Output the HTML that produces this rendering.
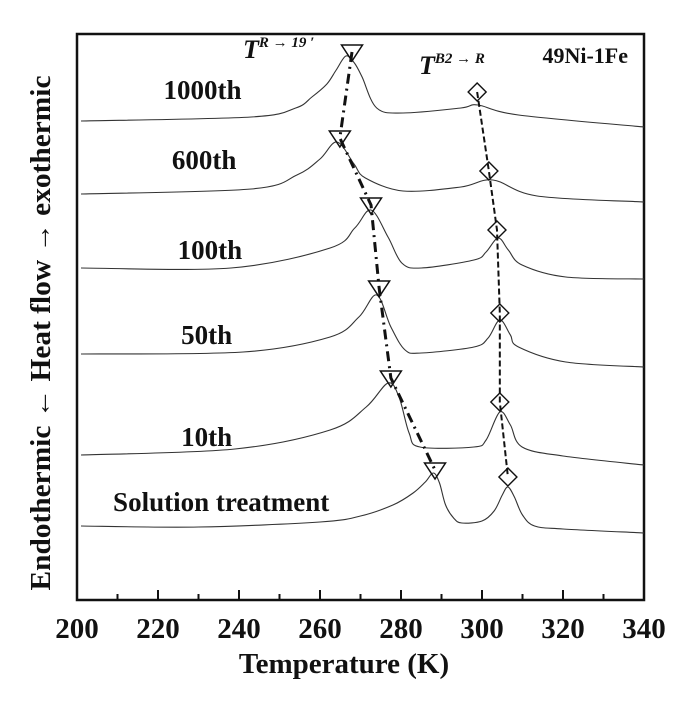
<!DOCTYPE html>
<html><head><meta charset="utf-8"><style>
html,body{margin:0;padding:0;background:#fff;width:694px;height:703px;overflow:hidden}
svg{display:block}
text{font-family:"Liberation Serif",serif;font-weight:bold;fill:#111}
</style></head><body>
<svg id="chart" width="694" height="703" viewBox="0 0 694 703" xmlns="http://www.w3.org/2000/svg"></svg>
<script>
// Data (heat flow expressed as pixel-equivalent offset, larger = higher on plot)
const xTicks = [200,220,240,260,280,300,320,340];
const curveNames = ["1000th","600th","100th","50th","10th","Solution treatment"];
const t1000 = [201,243,254,258,261.7,264,266.4,268.5,270.4,274,280.5,294.8,299,309,340];
const v1000 = [479,483,492,503,516,530,544,537,523,492,487,492,495,485,473];
const t600 = [201,243,254.3,260,264.2,268.4,271.2,280.5,294.8,302.7,313.6,340];
const v600 = [406,411,425,441,458,436,422,409,413,420,404,398];
const t100 = [201,238,262.5,268.6,272.6,276.8,280.2,285,298,301,304,306.5,309.9,320.7,340];
const v100 = [332,332,352,372,390,363,337,332,340,348,362,350,335,323,321];
const t50 = [201,241,262.5,269.6,274,277.5,281,285,298,301.5,304.4,307,309,320.7,340];
const v50 = [246,248,263,283,305,273,250,247,253,262,280,265,253,238,233];
const t10 = [201,239,262.5,271.4,276.8,279.5,282,284.7,298,301,304.4,307,309.9,320,340];
const v10 = [145,151,170,193,217,203,167,153,153,160,188,175,153,144,135];
const tSol = [201,230,260,270,278,283,286,288,289.5,291,293,295,300,303,305,306.4,308,310,313,320,340];
const vSol = [74,73,78,84,95,107,118,127,117,95,82,77,79,89,105,113,103,85,74,71,67];
const triT = [267.9,264.9,272.6,274.6,277.5,288.4];
const triV = [548,462,395,312,222,130];
const diaT = [298.8,301.7,303.7,304.4,304.4,306.4];
const diaV = [508,429,370,287,198,123];
const labelT = [231,231.4,232.8,232,232,235.6];
const labelV = [510,440,350,265,163,98];

const svg = document.getElementById('chart');
const NS = 'http://www.w3.org/2000/svg';
const X0=77, X1=644, Y0=34, Y1=600;
function xs(t){return X0+(t-200)*(X1-X0)/140;}
function ys(v){return 600-v;}
function mk(tag, attrs, parent){const e=document.createElementNS(NS,tag);for(const k in attrs)e.setAttribute(k,attrs[k]);(parent||svg).appendChild(e);return e;}

function smooth(pts){
  let d='M'+pts[0][0].toFixed(1)+','+pts[0][1].toFixed(1);
  for(let i=0;i<pts.length-1;i++){
    const p0=pts[i-1]||pts[i],p1=pts[i],p2=pts[i+1],p3=pts[i+2]||p2;
    const c1=[p1[0]+(p2[0]-p0[0])/6,p1[1]+(p2[1]-p0[1])/6];
    const c2=[p2[0]-(p3[0]-p1[0])/6,p2[1]-(p3[1]-p1[1])/6];
    d+=' C'+c1[0].toFixed(1)+','+c1[1].toFixed(1)+' '+c2[0].toFixed(1)+','+c2[1].toFixed(1)+' '+p2[0].toFixed(1)+','+p2[1].toFixed(1);
  }
  return d;
}

// frame
const frame = mk('rect',{x:X0,y:Y0,width:X1-X0,height:Y1-Y0,fill:'none',stroke:'#111','stroke-width':2.5});



// x ticks
for(let t=210;t<340;t+=10){
  const major = (t%20===0);
  const tk = mk('line',{x1:xs(t),x2:xs(t),y1:Y1,y2:Y1-(major?10:6),stroke:'#111','stroke-width':2});
  
  
}
xTicks.forEach(t=>{
  const tx = mk('text',{x:xs(t),y:638,'text-anchor':'middle','font-size':29});
  tx.textContent=t;
  
  
});
const xt = mk('text',{x:344,y:673,'text-anchor':'middle','font-size':29});
xt.textContent='Temperature (K)';


const yt = mk('text',{x:0,y:0,'text-anchor':'middle','font-size':28,transform:'translate(50,333) rotate(-90)',textLength:515,lengthAdjust:'spacingAndGlyphs'});
yt.textContent='Endothermic \u2190 Heat flow \u2192 exothermic';



// curves
const Ts=[t1000,t600,t100,t50,t10,tSol], Vs=[v1000,v600,v100,v50,v10,vSol];
Ts.forEach((T,i)=>{
  const pts=T.map((t,j)=>[xs(t),ys(Vs[i][j])]);
  const p = mk('path',{d:smooth(pts),fill:'none',stroke:'#333','stroke-width':1.1});
  
  
  const lb = mk('text',{x:xs(labelT[i]),y:ys(labelV[i])+9,'text-anchor':'middle','font-size':27});
  lb.textContent=curveNames[i];
  
  
});

// guide lines
const triLine = mk('polyline',{points:triT.map((t,i)=>xs(t)+','+ys(triV[i])).join(' '),fill:'none',stroke:'#111','stroke-width':3,'stroke-dasharray':'10 5 2 5'});


const diaLine = mk('polyline',{points:diaT.map((t,i)=>xs(t)+','+ys(diaV[i])).join(' '),fill:'none',stroke:'#111','stroke-width':2,'stroke-dasharray':'6 3'});



// markers
triT.forEach((t,i)=>{
  const cx=xs(t), cy=ys(triV[i]);
  const m = mk('polygon',{points:(cx-10.5)+','+(cy-7)+' '+(cx+10.5)+','+(cy-7)+' '+cx+','+(cy+9),fill:'none',stroke:'#111','stroke-width':1.5});
  
  
});
diaT.forEach((t,i)=>{
  const cx=xs(t), cy=ys(diaV[i]);
  const m = mk('polygon',{points:cx+','+(cy-9)+' '+(cx+9)+','+cy+' '+cx+','+(cy+9)+' '+(cx-9)+','+cy,fill:'none',stroke:'#111','stroke-width':1.4});
  
  
});

// annotations
const a1 = mk('text',{x:243,y:58,'font-size':26,'font-style':'italic'});
a1.innerHTML='T<tspan font-size="15" dy="-11">R \u2192 19 \u2032</tspan>';


const a2 = mk('text',{x:419,y:74,'font-size':26,'font-style':'italic'});
a2.innerHTML='T<tspan font-size="15" dy="-11">B2 \u2192 R</tspan>';


const a3 = mk('text',{x:628,y:63,'text-anchor':'end','font-size':22});
a3.textContent='49Ni-1Fe';


</script>
</body></html>
